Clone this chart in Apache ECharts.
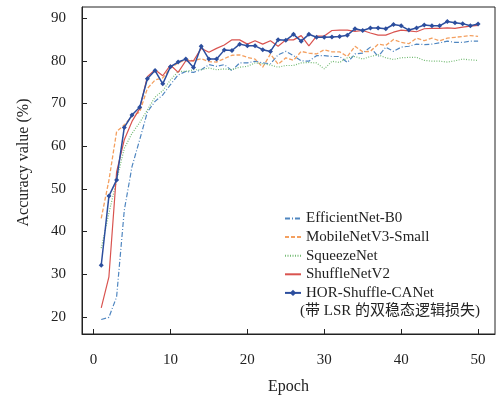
<!DOCTYPE html>
<html>
<head>
<meta charset="utf-8">
<title>Accuracy vs Epoch</title>
<script src="https://cdn.jsdelivr.net/npm/echarts@6/dist/echarts.min.js"></script>
<style>
  html, body { margin: 0; padding: 0; background: #fff; }
  #main { width: 498px; height: 401px; }
</style>
</head>
<body>
<div id="main"></div>
<script>
// epochs 1..50
var epochs = [];
for (var i = 1; i <= 50; i++) epochs.push(i);

var seriesNames = ['EfficientNet-B0', 'MobileNetV3-Small', 'SqueezeNet', 'ShuffleNetV2', 'HOR-Shuffle-CANet'];
var horNote = '(带 LSR 的双稳态逻辑损失)';

var effNet = [19.4, 19.9, 24.7, 45.0, 55.2, 61.5, 68.0, 70.5, 72.0, 74.4,
              76.7, 77.5, 77.3, 77.9, 79.1, 78.7, 79.1, 77.7, 79.5, 79.5,
              79.9, 79.5, 79.3, 81.4, 82.2, 81.2, 80.0, 79.9, 81.2, 81.2,
              81.0, 81.0, 79.6, 81.6, 81.8, 83.2, 81.0, 83.2, 82.2, 83.2,
              83.4, 83.9, 83.8, 83.9, 84.2, 84.6, 84.3, 84.3, 84.6, 84.6];
var mobileNet = [43.1, 52.0, 63.4, 65.0, 67.0, 68.0, 73.5, 75.5, 76.0, 78.3,
                 79.5, 80.3, 80.0, 80.5, 79.8, 79.7, 80.5, 81.3, 81.4, 80.8,
                 80.4, 78.5, 81.6, 79.2, 80.7, 80.1, 82.2, 81.8, 81.6, 82.6,
                 82.1, 82.1, 81.0, 83.4, 82.1, 82.2, 83.9, 83.6, 85.0, 84.3,
                 84.0, 85.3, 84.7, 85.3, 84.7, 85.3, 85.5, 85.7, 85.9, 85.7];
var squeezeNet = [36.1, 44.3, 52.0, 59.5, 63.0, 65.5, 68.5, 71.5, 73.0, 75.5,
                  77.5, 77.5, 77.9, 77.9, 78.3, 77.9, 78.1, 77.9, 78.5, 78.7,
                  79.5, 79.3, 79.0, 78.5, 78.9, 78.9, 79.5, 79.6, 79.5, 78.1,
                  79.9, 79.6, 80.7, 81.0, 80.4, 81.0, 81.4, 80.7, 80.3, 80.7,
                  80.8, 80.8, 80.1, 79.9, 79.9, 79.7, 80.0, 80.4, 80.2, 80.1];
var shuffleNet = [22.1, 29.4, 54.0, 61.5, 65.8, 68.8, 76.3, 77.9, 76.5, 79.0,
                  77.3, 80.0, 80.0, 82.9, 82.0, 82.9, 83.7, 84.9, 84.9, 83.9,
                  84.7, 83.9, 84.7, 83.4, 84.9, 84.9, 85.9, 83.5, 85.8, 85.8,
                  87.1, 87.2, 87.2, 86.9, 87.1, 86.5, 86.0, 86.0, 86.7, 87.2,
                  87.0, 86.8, 87.5, 87.6, 87.6, 87.7, 87.6, 87.9, 88.1, 88.3];
var horNet = [32.1, 48.3, 52.1, 64.4, 67.3, 69.1, 75.8, 77.7, 74.6, 78.6,
              79.7, 80.4, 78.4, 83.4, 80.4, 80.4, 82.5, 82.4, 83.9, 83.5,
              83.5, 82.6, 82.2, 84.9, 84.8, 86.2, 84.6, 86.2, 85.5, 85.5,
              85.6, 85.7, 86.0, 87.5, 87.1, 87.7, 87.7, 87.5, 88.5, 88.2,
              87.2, 87.7, 88.4, 88.2, 88.2, 89.2, 88.9, 88.7, 88.2, 88.6];

function pairs(vals) {
  return vals.map(function (v, k) { return [epochs[k], v]; });
}

var serif = '"Liberation Serif", "Times New Roman", "Noto Sans CJK SC", serif';

// legend entries: hide the symbol for the plain line series
var legendData = seriesNames.map(function (n, k) {
  return k < 4 ? { name: n, itemStyle: { opacity: 0 } } : { name: n };
});

var myChart = echarts.init(document.getElementById('main'));
myChart.setOption({
  animation: false,
  textStyle: { fontFamily: serif },
  grid: {
    left: 82, right: 3, top: 7, bottom: 67,
    show: true, borderColor: '#222', borderWidth: 1
  },
  legend: {
    orient: 'vertical',
    left: 279, top: 206,
    itemWidth: 16, itemHeight: 8,
    itemGap: 3.6,
    data: legendData,
    textStyle: { fontFamily: serif, fontSize: 15, color: '#222', lineHeight: 15 }
  },
  graphic: [{
    type: 'text', left: 300, top: 304,
    style: { text: horNote, fontFamily: serif, fontSize: 15, fill: '#222' }
  }],
  xAxis: {
    type: 'value', min: -1.5, max: 52.2, splitNumber: 5,
    name: 'Epoch', nameLocation: 'middle', nameGap: 45,
    nameTextStyle: { fontSize: 16, color: '#222', fontFamily: serif },
    axisLine: { onZero: false, lineStyle: { color: '#222' } },
    axisTick: { inside: true, length: 5, lineStyle: { color: '#222' } },
    axisLabel: { margin: 19, fontSize: 15, color: '#222', showMinLabel: false, showMaxLabel: false },
    splitLine: { show: false }
  },
  yAxis: {
    type: 'value', min: 16, max: 92.6, splitNumber: 8,
    name: 'Accuracy value (%)', nameLocation: 'middle', nameGap: 50,
    nameTextStyle: { fontSize: 16, color: '#222', fontFamily: serif, padding: [0, 0, 0, 16] },
    axisLine: { show: true, onZero: false, lineStyle: { color: '#222' } },
    axisTick: { show: true, inside: true, length: 5, lineStyle: { color: '#222' } },
    axisLabel: { margin: 16, fontSize: 15, color: '#222', showMinLabel: false, showMaxLabel: false },
    splitLine: { show: false }
  },
  series: [
    { name: seriesNames[0], type: 'line', data: pairs(effNet), symbol: 'none',
      lineStyle: { color: '#4f86c0', width: 1.2, type: [5, 2, 1, 2] }, itemStyle: { color: '#4f86c0' } },
    { name: seriesNames[1], type: 'line', data: pairs(mobileNet), symbol: 'none',
      lineStyle: { color: '#f4a060', width: 1.3, type: [4, 2] }, itemStyle: { color: '#f4a060' } },
    { name: seriesNames[2], type: 'line', data: pairs(squeezeNet), symbol: 'none',
      lineStyle: { color: '#74bb74', width: 1.2, type: [1, 1.5] }, itemStyle: { color: '#74bb74' } },
    { name: seriesNames[3], type: 'line', data: pairs(shuffleNet), symbol: 'none',
      lineStyle: { color: '#d9534f', width: 1.2 }, itemStyle: { color: '#d9534f' } },
    { name: seriesNames[4], type: 'line', data: pairs(horNet), symbol: 'diamond', symbolSize: 5,
      lineStyle: { color: '#2c4e9e', width: 1.5 }, itemStyle: { color: '#2c4e9e' } }
  ]
});
</script>
</body>
</html>
